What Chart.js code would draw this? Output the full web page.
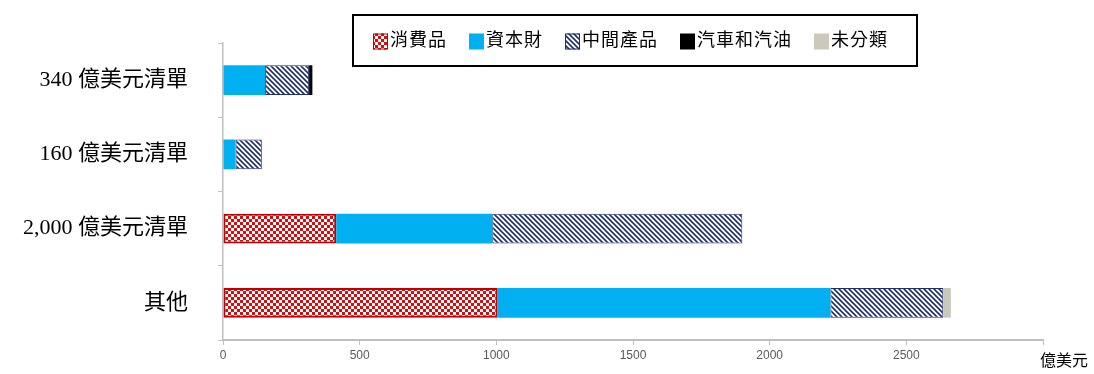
<!DOCTYPE html>
<html>
<head>
<meta charset="utf-8">
<script src="https://cdn.jsdelivr.net/npm/chart.js@4.4.1/dist/chart.umd.min.js"></script>
<style>
  html, body { margin: 0; padding: 0; background: #fff; }
  #wrap { width: 1094px; height: 374px; }
</style>
</head>
<body>
<div id="wrap"><canvas id="tradeChart" width="1094" height="374"></canvas></div>
<script>
// values (億美元)
const categories = ['340 億美元清單', '160 億美元清單', '2,000 億美元清單', '其他'];
const seriesNames = ['消費品', '資本財', '中間產品', '汽車和汽油', '未分類'];
const consumer = [0, 0, 414, 1005];
const capital = [154, 46, 571, 1217];
const intermediate = [161, 96, 915, 413];
const autos = [12, 0, 0, 0];
const unclassified = [0, 0, 0, 28];
const xTicks = [0, 500, 1000, 1500, 2000, 2500];
const unitLabel = '億美元';

const serifFont = '"Liberation Serif", "Noto Sans CJK TC", serif';

const ctx = document.getElementById('tradeChart').getContext('2d');

// red/white checkerboard fill
function checkerPattern() {
    const c = document.createElement('canvas');
    c.width = 6; c.height = 6;
    const g = c.getContext('2d');
    g.fillStyle = '#ffffff';
    g.fillRect(0, 0, 6, 6);
    g.fillStyle = '#d01010';
    g.fillRect(0, 0, 3, 3);
    g.fillRect(3, 3, 3, 3);
    return ctx.createPattern(c, 'repeat');
}

// navy diagonal stripes going down to the right
function hatchPattern() {
    const s = 5;
    const c = document.createElement('canvas');
    c.width = s; c.height = s;
    const g = c.getContext('2d');
    g.fillStyle = '#ffffff';
    g.fillRect(0, 0, s, s);
    g.strokeStyle = '#1f2f6b';
    g.lineWidth = 1.6;
    g.beginPath();
    g.moveTo(-1, -1); g.lineTo(s + 1, s + 1);
    g.moveTo(-1, s - 1); g.lineTo(1, s + 1);
    g.moveTo(s - 1, -1); g.lineTo(s + 1, 1);
    g.stroke();
    return ctx.createPattern(c, 'repeat');
}

const fills = [checkerPattern(), '#00b0f0', hatchPattern(), '#000000', '#cbc8bc'];
const borders = ['#c00000', '#00b0f0', '#1f2f6b', '#000000', '#cbc8bc'];
const borderWidths = [2, 0, 1, 0, 0];
const seriesData = [consumer, capital, intermediate, autos, unclassified];

// framed legend + unit label drawn on top
const extrasPlugin = {
    id: 'extras',
    afterDraw(chart) {
        const c = chart.ctx;
        const area = chart.chartArea;
        c.save();

        // legend frame
        const boxW = 564, boxTop = 15, boxH = 51;
        const center = (area.left + area.right) / 2;
        const boxLeft = Math.round(center - boxW / 2) + 2;
        c.fillStyle = '#ffffff';
        c.fillRect(boxLeft, boxTop, boxW, boxH);
        c.strokeStyle = '#000000';
        c.lineWidth = 2;
        c.strokeRect(boxLeft, boxTop, boxW, boxH);

        c.font = '18px ' + serifFont;
        if ('letterSpacing' in c) c.letterSpacing = '1px';
        c.textBaseline = 'middle';
        c.textAlign = 'left';
        let x = boxLeft + 20;
        const midY = boxTop + boxH / 2 + 1;
        chart.data.datasets.forEach(ds => {
            c.fillStyle = ds.backgroundColor;
            c.fillRect(x, midY - 8, 15, 16);
            if (ds.borderWidth) {
                c.strokeStyle = ds.borderColor;
                c.lineWidth = 1;
                c.strokeRect(x + 0.5, midY - 7.5, 14, 15);
            }
            c.fillStyle = '#000000';
            c.fillText(ds.label, x + 17, midY);
            x += 17 + c.measureText(ds.label).width + 22;
        });
        if ('letterSpacing' in c) c.letterSpacing = '0px';

        // unit under the end of the x axis
        c.font = '16px ' + serifFont;
        c.fillStyle = '#000000';
        c.fillText(unitLabel, area.right - 3, 362);
        c.restore();
    }
};

new Chart(ctx, {
    type: 'bar',
    data: {
        labels: categories,
        datasets: seriesNames.map((name, i) => ({
            label: name,
            data: seriesData[i],
            backgroundColor: fills[i],
            borderColor: borders[i],
            borderWidth: borderWidths[i],
            borderSkipped: false,
            categoryPercentage: 1,
            barPercentage: 0.4
        }))
    },
    options: {
        indexAxis: 'y',
        responsive: false,
        devicePixelRatio: 1,
        animation: false,
        layout: { padding: { top: 43, right: 51, left: 0, bottom: 0 } },
        scales: {
            x: {
                stacked: true,
                min: 0,
                max: 3000,
                afterFit: scale => { scale.height = 34; },
                border: { color: '#bfbfbf', width: 2 },
                grid: { drawOnChartArea: false, tickLength: 5, color: '#bfbfbf' },
                ticks: {
                    stepSize: 500,
                    padding: 3,
                    color: '#595959',
                    font: { family: '"Liberation Sans", Arial', size: 12 },
                    callback: value => xTicks.includes(value) ? value : ''
                }
            },
            y: {
                stacked: true,
                // fixed width; drop the label overhang so the plot keeps its height
                afterFit: scale => {
                    scale.width = 223;
                    scale.paddingTop = 0;
                    scale.paddingBottom = 0;
                },
                border: { color: '#bfbfbf', width: 1.5 },
                grid: { offset: true, drawOnChartArea: false, tickLength: 5, color: '#bfbfbf' },
                ticks: {
                    padding: 30,
                    color: '#000000',
                    font: { family: serifFont, size: 22 }
                }
            }
        },
        plugins: {
            legend: { display: false },
            tooltip: { enabled: false }
        }
    },
    plugins: [extrasPlugin]
});
</script>
</body>
</html>
